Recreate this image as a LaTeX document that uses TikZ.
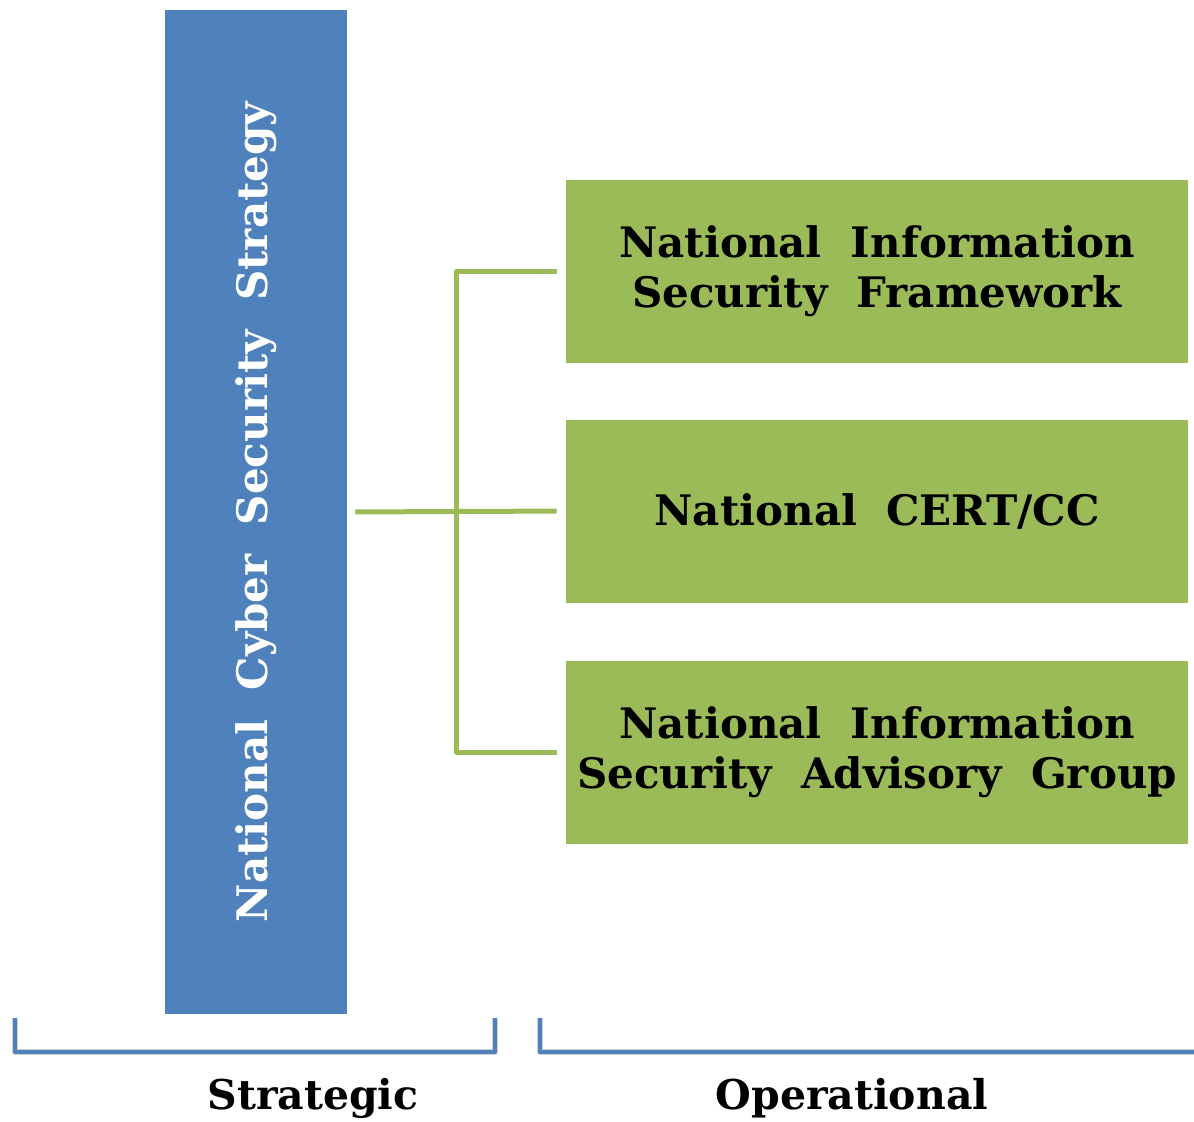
\documentclass[tikz,border=0pt]{standalone}
\usepackage{fontspec}
\setmainfont{DejaVu Serif}
\usetikzlibrary{positioning}

\definecolor{stratblue}{HTML}{4F81BD}
\definecolor{opgreen}{HTML}{9BBB59}

\tikzset{
  strategybox/.style={fill=stratblue, text=white, minimum width=91pt, minimum height=502pt,
    inner sep=0pt, font=\fontsize{21}{25}\selectfont\bfseries},
  opbox/.style={fill=opgreen, minimum width=311pt, minimum height=91.5pt, inner sep=0pt,
    align=center, font=\fontsize{21}{25}\selectfont\bfseries},
  link/.style={draw=opgreen, line width=2.5pt, line join=round},
  bracket/.style={draw=stratblue, line width=2.2pt, line join=round},
  bracketshade/.style={draw=black!40, opacity=0.45, line width=3pt, line join=round},
  caption/.style={font=\fontsize{20.5}{24}\selectfont\bfseries}
}

\begin{document}
\begin{tikzpicture}[x=0.5pt, y=-0.5pt]
  \useasboundingbox (0,0) rectangle (1194,1121);
  % strategic column
  \node[strategybox] (strategy) at (256,512) {\rotatebox{90}{National\ \ Cyber\ \ Security\ \ Strategy}};
  % operational boxes
  \node[opbox] (framework) at (877,271.5) {National\ \ Information\\Security\ \ Framework};
  \node[opbox] (cert) at (877,511) {National\ \ CERT/CC};
  \node[opbox] (advisory) at (877,752) {National\ \ Information\\Security\ \ Advisory\ \ Group};
  % connectors
  \coordinate (hub) at (456,511);
  \draw[link, shorten <=4pt, shorten >=4.5pt] (strategy.east) -- (cert.west);
  \draw[link] ([xshift=-4.5pt]framework.west) -| (hub) |- ([xshift=-4.5pt]advisory.west);
  % brackets
  \coordinate (stratA) at (15,1018);
  \coordinate (stratB) at (495,1018);
  \coordinate (opA) at (540,1018);
  \coordinate (opB) at (1194,1052);
  \begin{scope}[yshift=-3pt]
    \draw[bracketshade] (stratA) -- (stratA |- opB) -- (stratB |- opB) -- (stratB);
    \draw[bracketshade] (opA) -- (opA |- opB) -- (opB);
  \end{scope}
  \draw[bracket] (stratA) -- (stratA |- opB) -- (stratB |- opB) -- (stratB);
  \draw[bracket] (opA) -- (opA |- opB) -- (opB);
  \node[caption] (strategic) at (313,1098) {Strategic};
  \node[caption] (operational) at (852,1098) {Operational};
\end{tikzpicture}
\end{document}
